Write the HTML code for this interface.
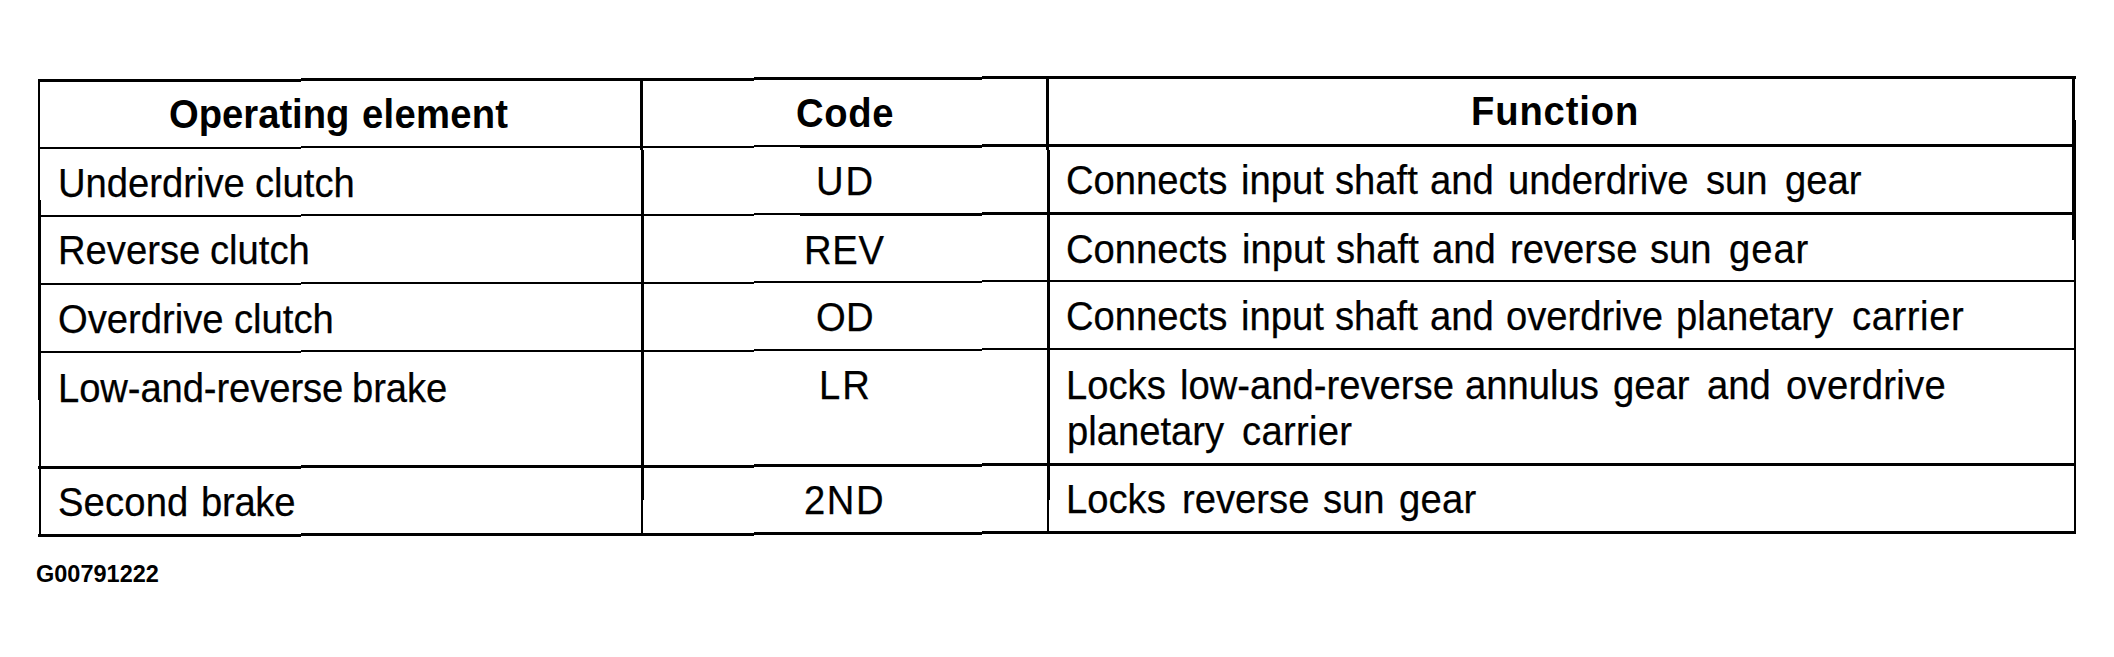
<!DOCTYPE html>
<html>
<head>
<meta charset="utf-8">
<style>
html,body{margin:0;padding:0;background:#fff;}
body{width:2114px;height:657px;position:relative;overflow:hidden;}
.h,.v{position:absolute;background:#000;}
.t{position:absolute;font-family:"Liberation Sans",sans-serif;font-size:40px;line-height:40px;white-space:pre;color:#000;-webkit-text-stroke:0.25px #000;transform:scaleX(0.955);transform-origin:0 0;}
.b{font-weight:700;-webkit-text-stroke:0;}
.f{position:absolute;font-family:"Liberation Sans",sans-serif;font-size:23.5px;line-height:24px;font-weight:700;white-space:pre;color:#000;}
</style>
</head>
<body>
<!-- rules -->
<div class="h" style="left:38px;top:79px;width:263px;height:3px"></div>
<div class="h" style="left:301px;top:78px;width:453px;height:3px"></div>
<div class="h" style="left:754px;top:77px;width:228px;height:3px"></div>
<div class="h" style="left:982px;top:76px;width:1094px;height:3px"></div>
<div class="h" style="left:38px;top:147px;width:263px;height:2px"></div>
<div class="h" style="left:301px;top:146px;width:453px;height:2px"></div>
<div class="h" style="left:754px;top:145px;width:46px;height:2px"></div>
<div class="h" style="left:800px;top:145px;width:182px;height:3px"></div>
<div class="h" style="left:982px;top:144px;width:1094px;height:3px"></div>
<div class="h" style="left:38px;top:215px;width:263px;height:2px"></div>
<div class="h" style="left:301px;top:214px;width:453px;height:2px"></div>
<div class="h" style="left:754px;top:213px;width:46px;height:2px"></div>
<div class="h" style="left:800px;top:213px;width:182px;height:3px"></div>
<div class="h" style="left:982px;top:212px;width:1094px;height:3px"></div>
<div class="h" style="left:38px;top:283px;width:263px;height:2px"></div>
<div class="h" style="left:301px;top:282px;width:453px;height:2px"></div>
<div class="h" style="left:754px;top:281px;width:228px;height:2px"></div>
<div class="h" style="left:982px;top:280px;width:1094px;height:2px"></div>
<div class="h" style="left:38px;top:351px;width:263px;height:2px"></div>
<div class="h" style="left:301px;top:350px;width:453px;height:2px"></div>
<div class="h" style="left:754px;top:349px;width:228px;height:2px"></div>
<div class="h" style="left:982px;top:348px;width:1094px;height:2px"></div>
<div class="h" style="left:38px;top:466px;width:263px;height:3px"></div>
<div class="h" style="left:301px;top:465px;width:453px;height:3px"></div>
<div class="h" style="left:754px;top:464px;width:228px;height:3px"></div>
<div class="h" style="left:982px;top:463px;width:1094px;height:3px"></div>
<div class="h" style="left:38px;top:534px;width:263px;height:3px"></div>
<div class="h" style="left:301px;top:533px;width:453px;height:3px"></div>
<div class="h" style="left:754px;top:532px;width:228px;height:3px"></div>
<div class="h" style="left:982px;top:531px;width:1094px;height:3px"></div>
<div class="v" style="left:38px;top:79px;width:2px;height:121px"></div>
<div class="v" style="left:38px;top:200px;width:3px;height:200px"></div>
<div class="v" style="left:39px;top:400px;width:2px;height:137px"></div>
<div class="v" style="left:640px;top:78px;width:3px;height:72px"></div>
<div class="v" style="left:641px;top:150px;width:3px;height:350px"></div>
<div class="v" style="left:641px;top:500px;width:2px;height:36px"></div>
<div class="v" style="left:1046px;top:76px;width:3px;height:74px"></div>
<div class="v" style="left:1047px;top:150px;width:3px;height:350px"></div>
<div class="v" style="left:1047px;top:500px;width:2px;height:34px"></div>
<div class="v" style="left:2072px;top:76px;width:3px;height:44px"></div>
<div class="v" style="left:2072px;top:120px;width:4px;height:120px"></div>
<div class="v" style="left:2074px;top:240px;width:2px;height:294px"></div>

<!-- text -->
<div class="t b" style="left:169px;top:94px">Operating</div>
<div class="t b" style="left:362px;top:94px;letter-spacing:0.3px">element</div>
<div class="t b" style="left:796px;top:93px;letter-spacing:0.7px">Code</div>
<div class="t b" style="left:1471px;top:91px;letter-spacing:0.9px">Function</div>
<div class="t" style="left:58px;top:163px">Underdrive</div>
<div class="t" style="left:255px;top:163px">clutch</div>
<div class="t" style="left:816px;top:161px;letter-spacing:2px">UD</div>
<div class="t" style="left:1066px;top:160px">Connects</div>
<div class="t" style="left:1241px;top:160px">input</div>
<div class="t" style="left:1335px;top:160px">shaft</div>
<div class="t" style="left:1430px;top:160px">and</div>
<div class="t" style="left:1508px;top:160px">underdrive</div>
<div class="t" style="left:1706px;top:160px">sun</div>
<div class="t" style="left:1785px;top:160px">gear</div>
<div class="t" style="left:58px;top:230px">Reverse</div>
<div class="t" style="left:210px;top:230px">clutch</div>
<div class="t" style="left:804px;top:230px;letter-spacing:0.8px">REV</div>
<div class="t" style="left:1066px;top:229px">Connects</div>
<div class="t" style="left:1242px;top:229px">input</div>
<div class="t" style="left:1336px;top:229px">shaft</div>
<div class="t" style="left:1432px;top:229px">and</div>
<div class="t" style="left:1510px;top:229px">reverse</div>
<div class="t" style="left:1650px;top:229px">sun</div>
<div class="t" style="left:1729px;top:229px;letter-spacing:1px">gear</div>
<div class="t" style="left:58px;top:299px">Overdrive</div>
<div class="t" style="left:234px;top:299px">clutch</div>
<div class="t" style="left:816px;top:297px;letter-spacing:0.4px">OD</div>
<div class="t" style="left:1066px;top:296px">Connects</div>
<div class="t" style="left:1241px;top:296px">input</div>
<div class="t" style="left:1335px;top:296px">shaft</div>
<div class="t" style="left:1430px;top:296px">and</div>
<div class="t" style="left:1506px;top:296px">overdrive</div>
<div class="t" style="left:1676px;top:296px">planetary</div>
<div class="t" style="left:1852px;top:296px;letter-spacing:0.6px">carrier</div>
<div class="t" style="left:58px;top:368px;letter-spacing:-0.1px">Low-and-reverse</div>
<div class="t" style="left:352px;top:368px;letter-spacing:-0.1px">brake</div>
<div class="t" style="left:819px;top:365px;letter-spacing:2px">LR</div>
<div class="t" style="left:1066px;top:365px">Locks</div>
<div class="t" style="left:1180px;top:365px">low-and-reverse</div>
<div class="t" style="left:1465px;top:365px">annulus</div>
<div class="t" style="left:1613px;top:365px">gear</div>
<div class="t" style="left:1707px;top:365px">and</div>
<div class="t" style="left:1786px;top:365px;letter-spacing:0.35px">overdrive</div>
<div class="t" style="left:1067px;top:411px">planetary</div>
<div class="t" style="left:1242px;top:411px;letter-spacing:0.3px">carrier</div>
<div class="t" style="left:58px;top:482px;letter-spacing:0.15px">Second</div>
<div class="t" style="left:201px;top:482px;letter-spacing:-0.3px">brake</div>
<div class="t" style="left:804px;top:480px;letter-spacing:1.6px">2ND</div>
<div class="t" style="left:1066px;top:479px">Locks</div>
<div class="t" style="left:1182px;top:479px">reverse</div>
<div class="t" style="left:1323px;top:479px">sun</div>
<div class="t" style="left:1399px;top:479px;letter-spacing:0.3px">gear</div>

<!-- footer code -->
<div class="f" style="left:36px;top:562px">G00791222</div>
</body>
</html>
